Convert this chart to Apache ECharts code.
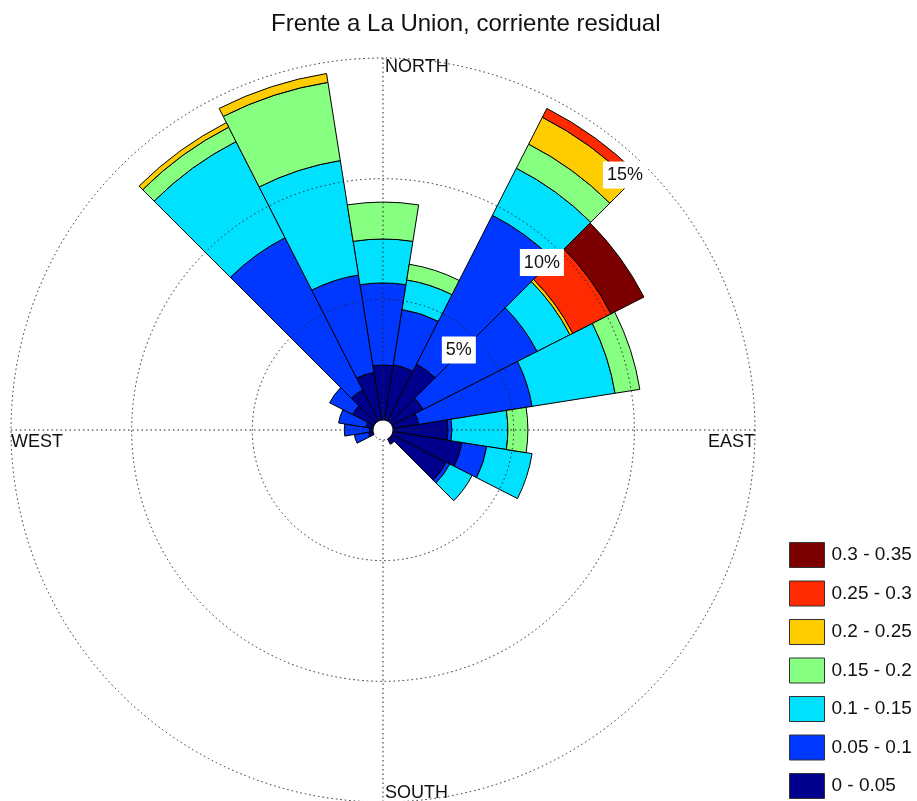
<!DOCTYPE html>
<html>
<head>
<meta charset="utf-8">
<script src="https://cdn.jsdelivr.net/npm/echarts@6/dist/echarts.min.js"></script>
<style>
html, body { margin: 0; padding: 0; background: #fff; }
#chart { width: 917px; height: 801px; }
</style>
</head>
<body>
<div id="chart"></div>
<script>
// 20 direction sectors, 18 degrees apart, starting at north
var directions = ['0', '18', '36', '54', '72', '90', '108', '126', '144', '162',
  '180', '198', '216', '234', '252', '270', '288', '306', '324', '342'];

// speed classes (m/s) and their colours
var speedClasses = ['0 - 0.05', '0.05 - 0.1', '0.1 - 0.15', '0.15 - 0.2', '0.2 - 0.25', '0.25 - 0.3', '0.3 - 0.35'];
var classColors = ['#00008c', '#0038ff', '#00e1ff', '#87ff80', '#ffcc00', '#ff2a00', '#7d0000'];

// frequency (%) per direction for each speed class
var freq0 = [2.28, 2.32, 2.65, 1.45, 1.08, 2.28, 2.90, 2.53, 0.25, 0, 0, 0, 0, 0, 0.20, 0.15, 0.30, 1.00, 1.45, 2.00];
var freq1 = [3.40, 2.32, 6.92, 5.30, 4.76, 0.16, 1.04, 0.16, 0, 0, 0, 0, 0, 0, 0.59, 1.04, 1.15, 1.07, 7.08, 4.09];
var freq2 = [1.82, 1.24, 2.19, 1.53, 3.48, 2.32, 1.90, 1.04, 0, 0, 0, 0, 0, 0, 0, 0, 0, 0, 4.47, 4.80];
var freq3 = [1.53, 0.66, 1.12, 0, 1.04, 0.83, 0, 0, 0, 0, 0, 0, 0, 0, 0, 0, 0, 0, 0.67, 3.28];
var freq4 = [0, 0, 1.25, 0.13, 0, 0, 0, 0, 0, 0, 0, 0, 0, 0, 0, 0, 0, 0, 0.21, 0.37];
var freq5 = [0, 0, 0.41, 1.78, 0, 0, 0, 0, 0, 0, 0, 0, 0, 0, 0, 0, 0, 0, 0, 0];
var freq6 = [0, 0, 0, 1.53, 0, 0, 0, 0, 0, 0, 0, 0, 0, 0, 0, 0, 0, 0, 0, 0];
var freqs = [freq0, freq1, freq2, freq3, freq4, freq5, freq6];

var ringTicks = [5, 10, 15];
var compassLabels = ['NORTH', 'EAST', 'SOUTH', 'WEST'];

var chart = echarts.init(document.getElementById('chart'));

var series = [];
for (var i = 0; i < speedClasses.length; i++) {
  series.push({
    name: speedClasses[i],
    type: 'bar',
    coordinateSystem: 'polar',
    polarIndex: 0,
    stack: 'rose',
    barCategoryGap: '0%',
    data: freqs[i].map(function(v) { return v > 0 ? v : null }),
    itemStyle: { color: classColors[i], borderColor: '#000', borderWidth: 1 },
    silent: true,
    z: 2
  });
}

var hiddenAxis = {
  axisLine: { show: false },
  axisTick: { show: false },
  axisLabel: { show: false },
  splitLine: { show: false }
};
var gridLine = { show: true, lineStyle: { type: [1.5, 3], color: '#222', width: 1 } };

chart.setOption({
  animation: false,
  title: {
    text: 'Frente a La Union, corriente residual',
    left: 266,
    top: 7,
    textStyle: { fontFamily: 'Liberation Sans', fontSize: 24, fontWeight: 'normal', color: '#111' }
  },
  legend: {
    orient: 'vertical',
    left: 789,
    top: 542,
    padding: 0,
    itemWidth: 35,
    itemHeight: 25,
    itemGap: 12.5,
    icon: 'rect',
    data: speedClasses.slice().reverse(),
    itemStyle: { borderColor: '#333', borderWidth: 1 },
    textStyle: { fontFamily: 'Liberation Sans', fontSize: 19, color: '#111', padding: [0, 0, 0, 2] }
  },
  polar: [
    { center: [383, 430], radius: [10, 372] },
    { center: [383, 430], radius: [10, 372] }
  ],
  angleAxis: [
    Object.assign({ polarIndex: 0, type: 'category', data: directions, startAngle: 99, clockwise: true }, hiddenAxis),
    Object.assign({}, hiddenAxis, {
      polarIndex: 1, type: 'value', min: 0, max: 360, interval: 90, startAngle: 90, clockwise: true,
      splitLine: gridLine, z: 5
    })
  ],
  radiusAxis: [
    Object.assign({ polarIndex: 0, type: 'value', min: 0, max: 15 }, hiddenAxis),
    Object.assign({}, hiddenAxis, {
      polarIndex: 1, type: 'value', min: 0, max: 15, interval: 5,
      splitLine: gridLine, z: 5
    })
  ],
  series: series
});

var texts = [];

// ring labels (5%, 10%, 15%) along the NE diagonal
for (var j = 0; j < ringTicks.length; j++) {
  var rp = chart.convertToPixel({ polarIndex: 1 }, [ringTicks[j] - 0.85, 43.5]);
  texts.push({
    type: 'text',
    x: rp[0],
    y: rp[1],
    z: 20,
    style: {
      text: ringTicks[j] + '%',
      align: 'center',
      verticalAlign: 'middle',
      font: '18px "Liberation Sans"',
      fill: '#111',
      backgroundColor: '#fff',
      padding: [5, 4, 4, 4]
    }
  });
}

// compass labels placed on the outer ring
var compassAngles = [0, 90, 180, 270];
var compassAlign = [['left', 'top', 2, 0], ['right', 'top', 0, 3], ['left', 'bottom', 2, 0], ['left', 'top', 0, 3]];
for (var k = 0; k < compassLabels.length; k++) {
  var pt = chart.convertToPixel({ polarIndex: 1 }, [15, compassAngles[k]]);
  texts.push({
    type: 'text',
    x: pt[0] + compassAlign[k][2],
    y: pt[1] + compassAlign[k][3],
    z: 20,
    style: {
      text: compassLabels[k],
      align: compassAlign[k][0],
      verticalAlign: compassAlign[k][1],
      font: '18px "Liberation Sans"',
      fill: '#111'
    }
  });
}
chart.setOption({ graphic: texts });
</script>
</body>
</html>
